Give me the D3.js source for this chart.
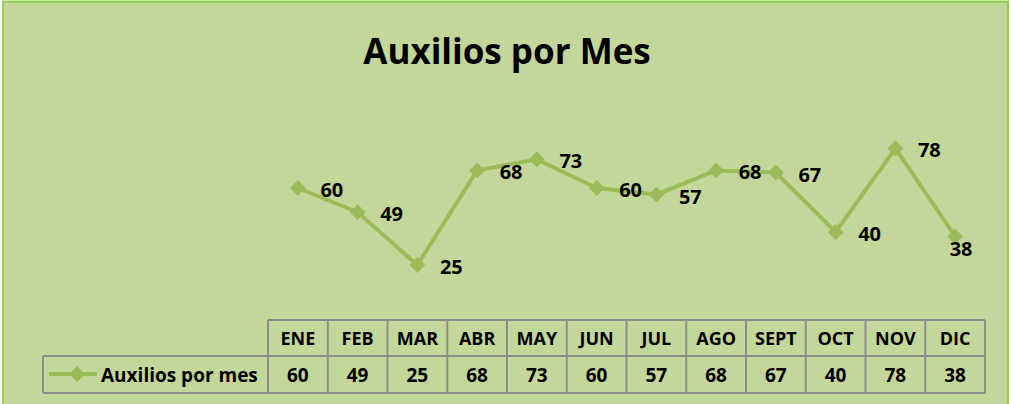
<!DOCTYPE html>
<html lang="es">
<head>
    <meta charset="UTF-8">
    <script src="https://cdn.jsdelivr.net/npm/d3@7"></script>
    <title>Auxilios por Mes</title>
    <style>
        body { margin: 0; background: #fff; }
        text { font-family: "Open Sans", "Noto Sans", sans-serif; font-weight: bold; fill: #000; }
    </style>
</head>
<body>
</body>
<script>
    // datos
    const meses = ["ENE","FEB","MAR","ABR","MAY","JUN","JUL","AGO","SEPT","OCT","NOV","DIC"]
    const auxilios = [60,49,25,68,73,60,57,68,67,40,78,38]
    const serieNombre = "Auxilios por mes"
    const titulo = "Auxilios por Mes"

    const width = 1011
    const height = 404
    const lineColor = "#9bbb59"

    const svg = d3.select("body").append("svg").attr("width", width).attr("height", height)

    // fondo y borde
    svg.append("rect")
        .attr("x", 3).attr("y", 1.5)
        .attr("width", 1005).attr("height", 410)
        .attr("fill", "#c4d79b")
        .attr("stroke", "#92d050").attr("stroke-width", 2)

    // titulo
    svg.append("text")
        .attr("x", 507).attr("y", 64)
        .attr("text-anchor", "middle")
        .attr("font-size", 35)
        .text(titulo)

    // escalas
    const tableLeft = 268, tableRight = 985
    const xScale = d3.scaleBand().domain(meses).range([tableLeft, tableRight])
    const yScale = d3.scaleLinear().domain([0, 100]).range([320, 100])
    const cx = d => xScale(d) + xScale.bandwidth() / 2

    const data = meses.map((m, i) => ({ mes: m, valor: auxilios[i] }))

    // linea
    const line = d3.line().x(d => cx(d.mes)).y(d => yScale(d.valor))
    svg.append("path")
        .datum(data)
        .attr("d", line)
        .attr("fill", "none")
        .attr("stroke", lineColor)
        .attr("stroke-width", 4)
        .attr("stroke-linejoin", "round")

    // marcadores
    const diamond = d3.symbol().type(d3.symbolDiamond2).size(160)
    svg.selectAll(".marker")
        .data(data)
        .enter()
        .append("path")
        .attr("class", "marker")
        .attr("transform", d => `translate(${cx(d.mes)},${yScale(d.valor)})`)
        .attr("d", diamond)
        .attr("fill", lineColor)

    // etiquetas
    const last = meses.length - 1
    svg.selectAll(".label")
        .data(data)
        .enter()
        .append("text")
        .attr("class", "label")
        .attr("x", (d, i) => cx(d.mes) + (i === last ? 6 : 34))
        .attr("y", (d, i) => yScale(d.valor) + (i === last ? 20 : 9))
        .attr("text-anchor", "middle")
        .attr("font-size", 20)
        .text(d => d.valor)

    // tabla de datos
    const rowTop = 320, rowMid = 356, rowBottom = 393, legendLeft = 43
    const grid = svg.append("g").attr("stroke", "#8c8c8c").attr("stroke-width", 2).attr("fill", "none")
    grid.append("line").attr("x1", tableLeft).attr("x2", tableRight).attr("y1", rowTop).attr("y2", rowTop)
    grid.append("line").attr("x1", legendLeft).attr("x2", tableRight).attr("y1", rowMid).attr("y2", rowMid)
    grid.append("line").attr("x1", legendLeft).attr("x2", tableRight).attr("y1", rowBottom).attr("y2", rowBottom)
    grid.append("line").attr("x1", legendLeft).attr("x2", legendLeft).attr("y1", rowMid).attr("y2", rowBottom)
    grid.selectAll(".vline")
        .data(meses.concat(["fin"]))
        .enter()
        .append("line")
        .attr("x1", (d, i) => tableLeft + i * xScale.bandwidth())
        .attr("x2", (d, i) => tableLeft + i * xScale.bandwidth())
        .attr("y1", rowTop).attr("y2", rowBottom)

    svg.selectAll(".mes")
        .data(meses)
        .enter()
        .append("text")
        .attr("x", d => cx(d))
        .attr("y", 345)
        .attr("text-anchor", "middle")
        .attr("font-size", 18)
        .text(d => d)

    svg.selectAll(".valor")
        .data(data)
        .enter()
        .append("text")
        .attr("x", d => cx(d.mes))
        .attr("y", 382)
        .attr("text-anchor", "middle")
        .attr("font-size", 19)
        .text(d => d.valor)

    // leyenda
    svg.append("line")
        .attr("x1", 49).attr("x2", 97).attr("y1", 374).attr("y2", 374)
        .attr("stroke", lineColor).attr("stroke-width", 4)
    svg.append("path")
        .attr("transform", "translate(77,374)")
        .attr("d", diamond)
        .attr("fill", lineColor)
    svg.append("text")
        .attr("x", 101).attr("y", 382)
        .attr("font-size", 19)
        .text(serieNombre)
</script>
</html>
